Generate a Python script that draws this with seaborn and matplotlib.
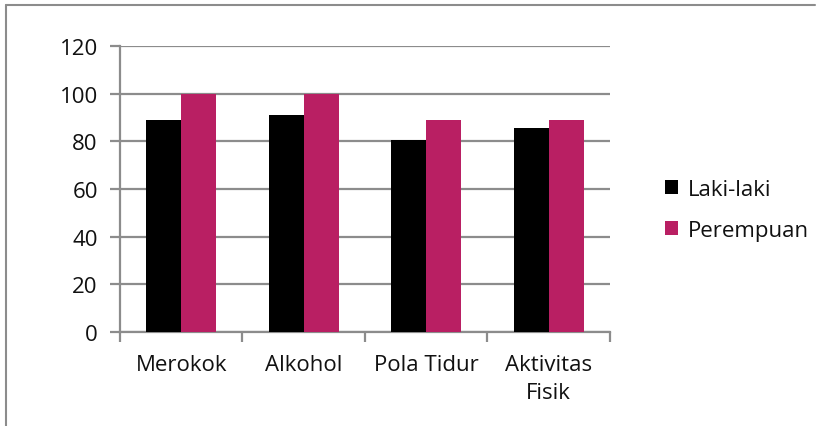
import pandas as pd
import seaborn as sns
import matplotlib.pyplot as plt
from matplotlib.patches import Patch
from matplotlib.lines import Line2D

categories = ['Merokok', 'Alkohol', 'Pola Tidur', 'Aktivitas\nFisik']
laki = [89, 91, 80.5, 85.5]
perempuan = [100, 100, 89, 89]
series = ['Laki-laki', 'Perempuan']
colors = ['#000000', '#B91F63']

df = pd.DataFrame({
    'kategori': categories * 2,
    'nilai': laki + perempuan,
    'jenis': [series[0]] * 4 + [series[1]] * 4,
})

sns.set_style('white')
plt.rcParams['font.family'] = ['Open Sans', 'DejaVu Sans']
grey = '#8C8C8C'
fs = 16

fig = plt.figure(figsize=(8.2, 4.27), dpi=100)
ax = fig.add_axes([120 / 820, 94 / 427, 490 / 820, 286 / 427])

sns.barplot(data=df, x='kategori', y='nilai', hue='jenis', palette=colors,
            width=0.57, gap=0, saturation=1, ax=ax, legend=False,
            edgecolor='none', linewidth=0, zorder=3)

ax.set_ylim(0, 120)
ax.set_yticks(range(0, 121, 20))
ax.set_xlim(-0.5, 3.5)
ax.yaxis.grid(True, color=grey, linewidth=1.6, zorder=0)
ax.set_axisbelow(True)
ax.set_xlabel('')
ax.set_ylabel('')

for s in ['top', 'right']:
    ax.spines[s].set_visible(False)
for s in ['left', 'bottom']:
    ax.spines[s].set_color(grey)
    ax.spines[s].set_linewidth(1.6)

ax.tick_params(axis='y', length=7, width=1.6, color=grey, labelsize=fs,
               labelcolor='#111111', pad=9, left=True)
ax.tick_params(axis='x', which='major', length=0, labelsize=fs,
               labelcolor='#111111', pad=16)
for lbl in ax.get_xticklabels():
    lbl.set_linespacing(1.4)
ax.set_xticks([-0.5, 0.5, 1.5, 2.5, 3.5], minor=True)
ax.tick_params(axis='x', which='minor', length=7, width=1.6, color=grey,
               bottom=True)

# frame around chart area (left and top visible)
fig.add_artist(Line2D([6 / 820, 6 / 820], [0, 1 - 6 / 427], color=grey,
                      linewidth=1.5, transform=fig.transFigure))
fig.add_artist(Line2D([6 / 820, 815 / 820], [1 - 6 / 427, 1 - 6 / 427],
                      color=grey, linewidth=1.5, transform=fig.transFigure))

handles = [Patch(facecolor=c, edgecolor='none') for c in colors]
leg = fig.legend(handles, series, loc='center left',
                 bbox_to_anchor=(645 / 820, 1 - 211 / 427), frameon=False,
                 fontsize=fs, handlelength=0.6, handleheight=0.6,
                 handletextpad=0.45, labelspacing=0.9)
for t in leg.get_texts():
    t.set_color('#111111')

fig.savefig('out.png', dpi=100)
